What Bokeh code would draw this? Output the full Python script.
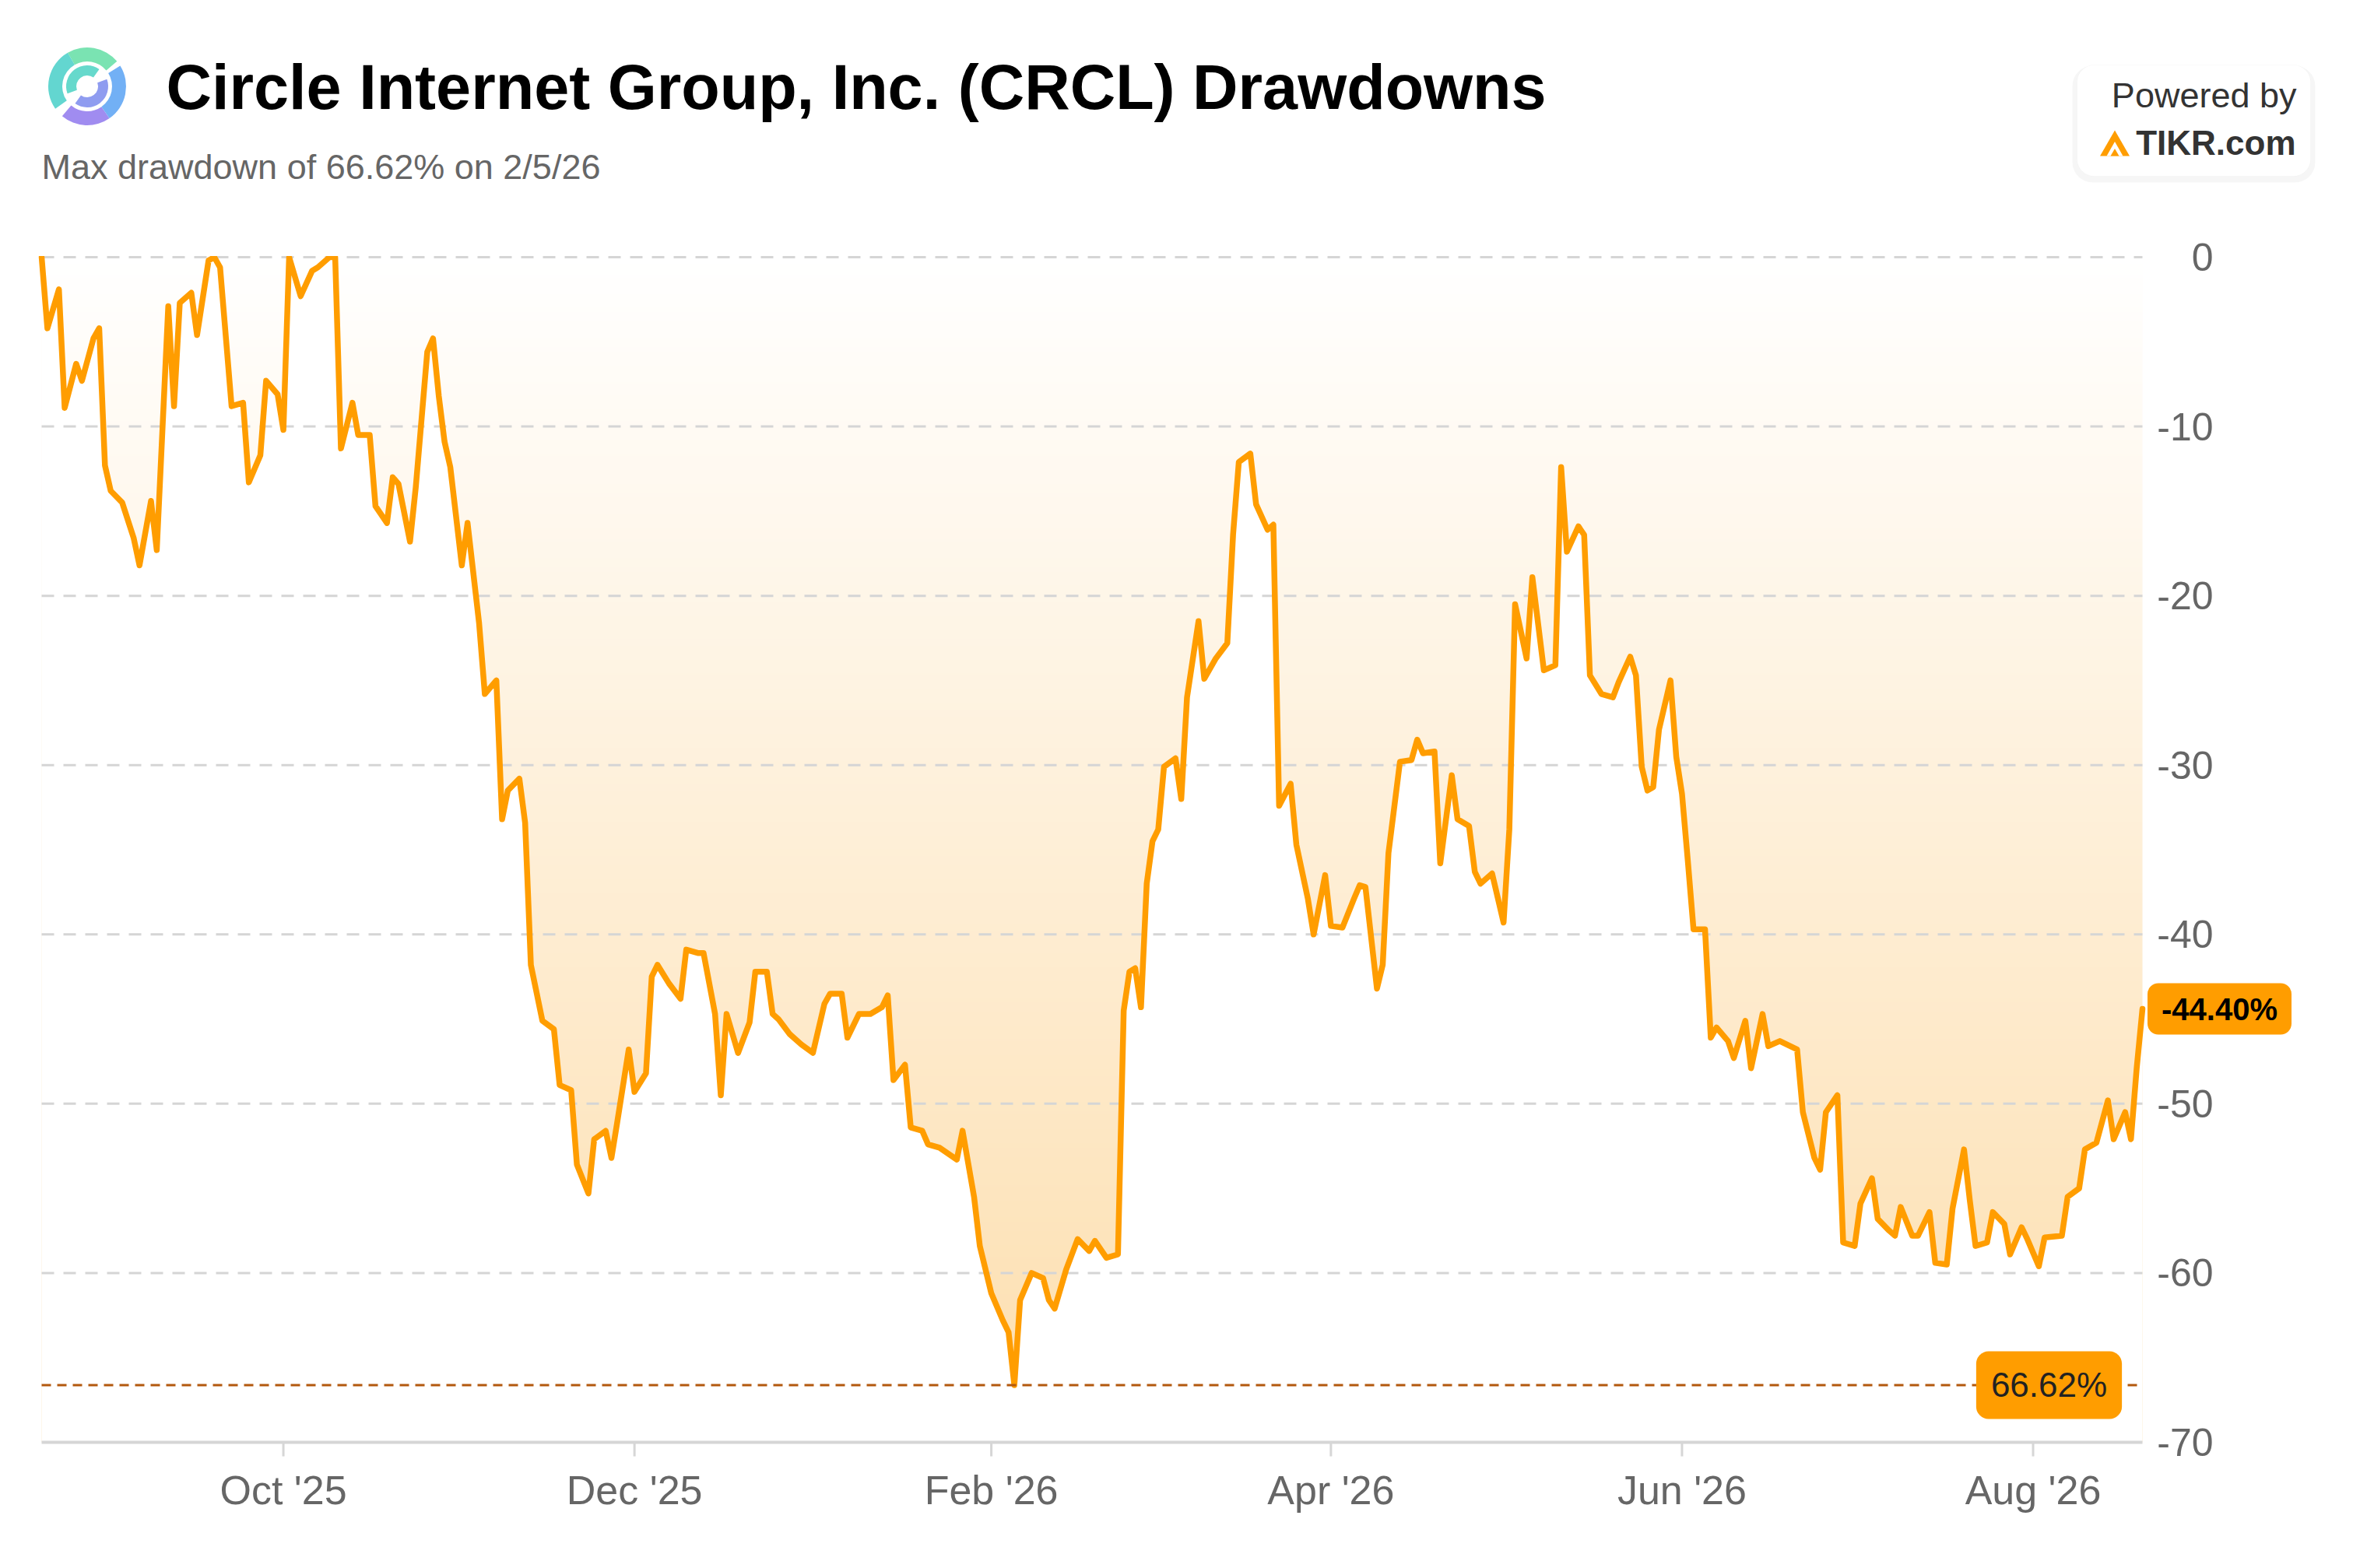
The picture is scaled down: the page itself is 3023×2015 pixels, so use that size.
import numpy as np
import pandas as pd
from bokeh.plotting import figure
from bokeh.models import (Range1d, FixedTicker, DatetimeTickFormatter, Label, BoxAnnotation)
from bokeh.embed import file_html
from bokeh.resources import INLINE

# ---------------- data ----------------
dates = [
    "2025-08-20", "2025-08-21", "2025-08-23", "2025-08-24", "2025-08-26", "2025-08-27",
    "2025-08-29", "2025-08-30", "2025-08-31", "2025-09-01", "2025-09-03", "2025-09-05",
    "2025-09-06", "2025-09-08", "2025-09-09", "2025-09-11", "2025-09-12", "2025-09-13",
    "2025-09-15", "2025-09-16", "2025-09-18", "2025-09-19", "2025-09-20", "2025-09-22",
    "2025-09-24", "2025-09-25", "2025-09-27", "2025-09-28", "2025-09-30", "2025-10-01",
    "2025-10-02", "2025-10-04", "2025-10-06", "2025-10-07", "2025-10-09", "2025-10-10",
    "2025-10-11", "2025-10-13", "2025-10-14", "2025-10-16", "2025-10-17", "2025-10-19",
    "2025-10-20", "2025-10-21", "2025-10-23", "2025-10-24", "2025-10-26", "2025-10-27",
    "2025-10-28", "2025-10-29", "2025-10-30", "2025-11-01", "2025-11-02", "2025-11-04",
    "2025-11-05", "2025-11-07", "2025-11-08", "2025-11-09", "2025-11-11", "2025-11-12",
    "2025-11-13", "2025-11-15", "2025-11-17", "2025-11-18", "2025-11-20", "2025-11-21",
    "2025-11-23", "2025-11-24", "2025-11-26", "2025-11-27", "2025-11-28", "2025-11-30",
    "2025-12-01", "2025-12-03", "2025-12-04", "2025-12-05", "2025-12-07", "2025-12-09",
    "2025-12-10", "2025-12-12", "2025-12-13", "2025-12-15", "2025-12-16", "2025-12-17",
    "2025-12-19", "2025-12-21", "2025-12-22", "2025-12-24", "2025-12-25", "2025-12-26",
    "2025-12-28", "2025-12-30", "2026-01-01", "2026-01-03", "2026-01-04", "2026-01-06",
    "2026-01-07", "2026-01-09", "2026-01-11", "2026-01-13", "2026-01-14", "2026-01-15",
    "2026-01-17", "2026-01-18", "2026-01-20", "2026-01-21", "2026-01-23", "2026-01-26",
    "2026-01-27", "2026-01-29", "2026-01-30", "2026-02-01", "2026-02-03", "2026-02-04",
    "2026-02-05", "2026-02-06", "2026-02-08", "2026-02-10", "2026-02-11", "2026-02-12",
    "2026-02-14", "2026-02-15", "2026-02-16", "2026-02-18", "2026-02-19", "2026-02-21",
    "2026-02-23", "2026-02-24", "2026-02-25", "2026-02-26", "2026-02-27", "2026-02-28",
    "2026-03-01", "2026-03-02", "2026-03-03", "2026-03-05", "2026-03-06", "2026-03-07",
    "2026-03-09", "2026-03-10", "2026-03-12", "2026-03-14", "2026-03-15", "2026-03-16",
    "2026-03-18", "2026-03-19", "2026-03-21", "2026-03-22", "2026-03-23", "2026-03-25",
    "2026-03-26", "2026-03-28", "2026-03-29", "2026-03-31", "2026-04-01", "2026-04-03",
    "2026-04-05", "2026-04-06", "2026-04-07", "2026-04-09", "2026-04-10", "2026-04-11",
    "2026-04-13", "2026-04-15", "2026-04-16", "2026-04-17", "2026-04-19", "2026-04-20",
    "2026-04-22", "2026-04-23", "2026-04-25", "2026-04-26", "2026-04-27", "2026-04-29",
    "2026-05-01", "2026-05-02", "2026-05-03", "2026-05-05", "2026-05-06", "2026-05-08",
    "2026-05-10", "2026-05-11", "2026-05-12", "2026-05-14", "2026-05-15", "2026-05-16",
    "2026-05-18", "2026-05-20", "2026-05-21", "2026-05-23", "2026-05-24", "2026-05-25",
    "2026-05-26", "2026-05-27", "2026-05-28", "2026-05-30", "2026-05-31", "2026-06-01",
    "2026-06-02", "2026-06-03", "2026-06-05", "2026-06-06", "2026-06-07", "2026-06-09",
    "2026-06-10", "2026-06-12", "2026-06-13", "2026-06-15", "2026-06-16", "2026-06-18",
    "2026-06-21", "2026-06-22", "2026-06-24", "2026-06-25", "2026-06-26", "2026-06-28",
    "2026-06-29", "2026-07-01", "2026-07-02", "2026-07-04", "2026-07-05", "2026-07-07",
    "2026-07-08", "2026-07-09", "2026-07-11", "2026-07-12", "2026-07-14", "2026-07-15",
    "2026-07-17", "2026-07-18", "2026-07-20", "2026-07-21", "2026-07-22", "2026-07-24",
    "2026-07-25", "2026-07-27", "2026-07-28", "2026-07-30", "2026-07-31", "2026-08-02",
    "2026-08-03", "2026-08-06", "2026-08-07", "2026-08-09", "2026-08-10", "2026-08-12",
    "2026-08-14", "2026-08-15", "2026-08-17", "2026-08-18", "2026-08-19", "2026-08-20",
]
drawdown = [
    0.0, -4.2, -1.9, -8.9, -6.3, -7.3,
    -4.8, -4.2, -12.3, -13.8, -14.5, -16.6,
    -18.2, -14.4, -17.3, -2.9, -8.8, -2.7,
    -2.1, -4.6, -0.2, 0.0, -0.6, -8.8,
    -8.6, -13.3, -11.7, -7.3, -8.1, -10.2,
    0.0, -2.3, -0.8, -0.6, 0.0, 0.0,
    -11.3, -8.6, -10.5, -10.5, -14.7, -15.7,
    -13.0, -13.4, -16.8, -13.6, -5.6, -4.8,
    -8.2, -10.9, -12.4, -18.2, -15.7, -21.6,
    -25.8, -25.0, -33.2, -31.5, -30.8, -33.4,
    -41.8, -45.1, -45.6, -48.9, -49.2, -53.6,
    -55.3, -52.1, -51.6, -53.2, -51.1, -46.8,
    -49.3, -48.2, -42.5, -41.8, -42.9, -43.8,
    -40.9, -41.1, -41.1, -44.7, -49.5, -44.7,
    -47.0, -45.2, -42.2, -42.2, -44.7, -45.0,
    -45.9, -46.5, -47.0, -44.1, -43.5, -43.5,
    -46.1, -44.7, -44.7, -44.3, -43.6, -48.6,
    -47.7, -51.4, -51.6, -52.4, -52.6, -53.3,
    -51.6, -55.5, -58.4, -61.2, -62.8, -63.5,
    -66.62, -61.6, -60.0, -60.3, -61.6, -62.1,
    -59.8, -58.9, -58.0, -58.7, -58.1, -59.1,
    -58.9, -44.5, -42.2, -42.0, -44.3, -37.0,
    -34.5, -33.8, -30.1, -29.6, -32.0, -26.0,
    -21.5, -24.9, -23.7, -22.8, -16.4, -12.1,
    -11.6, -14.6, -16.1, -15.8, -32.4, -31.1,
    -34.7, -37.9, -40.0, -36.5, -39.5, -39.6,
    -37.9, -37.1, -37.2, -43.2, -41.8, -35.2,
    -29.8, -29.7, -28.5, -29.3, -29.2, -35.8,
    -30.6, -33.2, -33.6, -36.3, -37.0, -36.4,
    -39.3, -33.8, -20.5, -23.7, -18.9, -24.4,
    -24.1, -12.4, -17.4, -15.9, -16.4, -24.7,
    -25.8, -26.0, -25.1, -23.6, -24.7, -30.1,
    -31.5, -31.3, -27.9, -25.0, -29.5, -31.7,
    -35.6, -39.7, -39.7, -46.1, -45.5, -46.3,
    -47.3, -45.1, -47.9, -44.7, -46.6, -46.3,
    -46.8, -50.5, -53.2, -53.9, -50.5, -49.5,
    -58.2, -58.4, -55.9, -54.4, -56.8, -57.5,
    -57.8, -56.1, -57.8, -57.8, -56.4, -59.4,
    -59.5, -56.2, -52.7, -55.7, -58.4, -58.2,
    -56.4, -57.1, -58.9, -57.3, -58.0, -59.6,
    -57.9, -57.8, -55.5, -55.0, -52.7, -52.3,
    -49.8, -52.1, -50.5, -52.1, -47.9, -44.40,
]
x_tick_dates = ["2025-10-01", "2025-12-01", "2026-02-01", "2026-04-01", "2026-06-01", "2026-08-01"]
y_ticks = [0, -10, -20, -30, -40, -50, -60, -70]
y_tick_labels = ["0", "-10", "-20", "-30", "-40", "-50", "-60", "-70"]
max_drawdown = -66.62
max_label = "66.62%"
last_label = "-44.40%"
title_text = "Circle Internet Group, Inc. (CRCL) Drawdowns"
subtitle_text = "Max drawdown of 66.62% on 2/5/26"

# ---------------- layout constants (page pixels) ----------------
FONT = "Liberation Sans"
ORANGE = "#ff9d00"
W = 3016                 # canvas width
PAD = 0                  # bokeh's page template has no body margin
PLOT_L, PLOT_R = 53, 2752    # page x of the plotting area
PLOT_T, PLOT_B = 330, 1853   # page y of 0 and -70
Y_TOP, Y_BOT = 0.0, -70.0
AX_EXTRA = 27            # px of frame kept below the -70 line
BOTTOM_BORDER = 120
MID = 0.3465             # baseline offset of the text box middle (em)

ppu = (PLOT_B - PLOT_T) / (Y_TOP - Y_BOT)          # px per drawdown unit
frame_bottom_page = PLOT_B + AX_EXTRA
frame_h = frame_bottom_page - PAD
H = frame_h + BOTTOM_BORDER

xd = pd.to_datetime(dates)
x0_ms = xd[0].value / 1e6
x1_ms = xd[-1].value / 1e6
ms_per_px = (x1_ms - x0_ms) / (PLOT_R - PLOT_L)
xr_start = x0_ms - (PLOT_L - PAD) * ms_per_px
xr_end = xr_start + W * ms_per_px
yr_start = Y_BOT - AX_EXTRA / ppu
yr_end = yr_start + frame_h / ppu


def sx(X):  # page x -> frame screen x
    return X - PAD


def sy(Y):  # page y -> frame screen y (from frame bottom, upward)
    return frame_bottom_page - Y


def dx(X):  # page x -> data x
    return xr_start + (X - PAD) * ms_per_px


def dy(Y):  # page y -> data y
    return yr_start + (frame_bottom_page - Y) / ppu


p = figure(width=W, height=H, x_axis_type="datetime", y_axis_type=None,
           x_range=Range1d(xr_start, xr_end), y_range=Range1d(yr_start, yr_end),
           toolbar_location=None, output_backend="svg",
           min_border_left=0, min_border_right=0, min_border_top=0,
           min_border_bottom=BOTTOM_BORDER)
p.outline_line_color = None
p.background_fill_color = "white"
p.border_fill_color = "white"
p.xgrid.visible = False

# ---------------- area gradient ----------------
N = 512
rows = Y_BOT + (np.arange(N) + 0.5) * (Y_TOP - Y_BOT) / N
frac = np.clip(-rows / -max_drawdown, 0, 1)
top_c = np.array([255, 255, 255])
bot_c = np.array([253, 224, 178])
img = np.zeros((N, 1), dtype=np.uint32)
view = img.view(dtype=np.uint8).reshape((N, 1, 4))
for k in range(3):
    view[:, 0, k] = np.round(top_c[k] + frac * (bot_c[k] - top_c[k])).astype(np.uint8)
view[:, 0, 3] = 255
p.image_rgba(image=[img], x=x0_ms, y=Y_BOT, dw=x1_ms - x0_ms, dh=Y_TOP - Y_BOT, level="image")
p.varea(x=xd, y1=Y_BOT - 10, y2=drawdown, fill_color="white", level="image")

# grid lines (dashed) over the plotting area
grid_y = y_ticks[:-1]
p.segment(x0=[x0_ms] * len(grid_y), x1=[x1_ms] * len(grid_y), y0=grid_y, y1=grid_y,
          line_color="#d5d5d5", line_width=3, line_dash="16 12", level="underlay")

# drawdown line, clipped at the top of the plotting area like the original
p.line(x=xd, y=drawdown, line_color=ORANGE, line_width=7.5, line_join="round", line_cap="round")
p.quad(left=[x0_ms - 20 * ms_per_px], right=[x1_ms + 20 * ms_per_px], bottom=[Y_TOP + 1.6 / ppu],
       top=[yr_end], fill_color="white", line_color=None)

# x axis line and tick marks
p.segment(x0=[x0_ms], x1=[x1_ms], y0=[Y_BOT], y1=[Y_BOT], line_color="#d6d6d6", line_width=4)
xt = [pd.Timestamp(d).value / 1e6 for d in x_tick_dates]
p.segment(x0=xt, x1=xt, y0=[Y_BOT] * len(xt), y1=[Y_BOT - 18 / ppu] * len(xt),
          line_color="#d6d6d6", line_width=3)

# max drawdown line
p.segment(x0=[x0_ms], x1=[x1_ms], y0=[max_drawdown], y1=[max_drawdown],
          line_color="#b3590e", line_width=3, line_dash="12 8")

# ---------------- x axis labels ----------------
ax = p.xaxis[0]
ax.ticker = FixedTicker(ticks=xt)
fmt = "%b '%y"
ax.formatter = DatetimeTickFormatter(milliseconds=fmt, seconds=fmt, minsec=fmt, minutes=fmt,
                                     hourmin=fmt, hours=fmt, days=fmt, months=fmt, years=fmt)
ax.major_label_text_font = FONT
ax.major_label_text_font_size = "52px"
ax.major_label_text_color = "#666666"
ax.axis_line_color = None
ax.major_tick_line_color = None
ax.major_tick_in = 0
ax.major_tick_out = 0
ax.minor_tick_line_color = None
ax.minor_tick_in = 0
ax.minor_tick_out = 0
ax.major_label_standoff = 5

# ---------------- y labels on the right (right aligned) ----------------
for v, t in zip(y_ticks, y_tick_labels):
    p.add_layout(Label(x=sx(2843), y=v, x_units="screen", text=t, text_font=FONT,
                       text_font_size="50px", text_color="#666666", text_align="right",
                       text_baseline="middle"))

# ---------------- value labels ----------------
p.add_layout(Label(x=sx(2632), y=max_drawdown, x_units="screen", text=max_label, text_font=FONT,
                   text_font_size="44px", text_color="#222222", text_align="center",
                   text_baseline="middle", background_fill_color=ORANGE, padding=19,
                   border_radius=16))
p.add_layout(Label(x=sx(2851), y=drawdown[-1], x_units="screen", text=last_label, text_font=FONT,
                   text_font_size="40px", text_font_style="bold", text_color="#000000",
                   text_align="center", text_baseline="middle", background_fill_color=ORANGE,
                   padding=(18, 11), border_radius=14))

# ---------------- header ----------------
p.add_layout(Label(x=sx(213), y=sy(140 - MID * 81), x_units="screen", y_units="screen",
                   text=title_text, text_font=FONT, text_font_size="81px",
                   text_font_style="bold", text_color="#000000", text_baseline="middle"))
p.add_layout(Label(x=sx(53), y=sy(230 - MID * 45), x_units="screen", y_units="screen",
                   text=subtitle_text, text_font=FONT, text_font_size="45px",
                   text_color="#666666", text_baseline="middle"))

# Circle logo (approximation with annular wedges)
lcx, lcy = dx(111.5), dy(110.5)
logo_parts = [
    (32, 50, 40, 120, "#7ae3b2"),
    (32, 50, 120, 215, "#63d6d0"),
    (32, 50, 230, 305, "#a08cf0"),
    (32, 50, 305, 392, "#72b0f5"),
    (14, 27, 55, 200, "#66d9cc"),
    (14, 27, 235, 380, "#8f9cf0"),
]
for r0, r1, a0, a1, col in logo_parts:
    p.annular_wedge(x=lcx, y=lcy, inner_radius=r0, outer_radius=r1,
                    inner_radius_units="screen", outer_radius_units="screen",
                    start_angle=np.radians(a0), end_angle=np.radians(a1),
                    fill_color=col, line_color=None, level="overlay")

# Powered by TIKR box
p.add_layout(BoxAnnotation(left=sx(2662), right=sx(2974), top=sy(84), bottom=sy(234),
                           left_units="screen", right_units="screen", top_units="screen",
                           bottom_units="screen", fill_color="#000000", fill_alpha=0.035,
                           line_color=None, border_radius=26))
p.add_layout(BoxAnnotation(left=sx(2668), right=sx(2968), top=sy(83), bottom=sy(226),
                           left_units="screen", right_units="screen", top_units="screen",
                           bottom_units="screen", fill_color="white", fill_alpha=1.0,
                           line_color="#eeeeee", line_width=1, border_radius=22))
p.add_layout(Label(x=sx(2950), y=sy(138 - MID * 45), x_units="screen", y_units="screen",
                   text="Powered by", text_font=FONT, text_font_size="45px",
                   text_color="#333333", text_align="right", text_baseline="middle"))
p.add_layout(Label(x=sx(2949), y=sy(198 - MID * 44), x_units="screen", y_units="screen",
                   text="TIKR.com", text_font=FONT, text_font_size="44px",
                   text_font_style="bold", text_color="#333333", text_align="right",
                   text_baseline="middle"))
p.patch(x=[dx(2697.5), dx(2716.5), dx(2735.5)], y=[dy(200), dy(167), dy(200)],
        fill_color=ORANGE, line_color=None, level="overlay")
p.patch(x=[dx(2706), dx(2716.5), dx(2727)], y=[dy(200), dy(181.5), dy(200)],
        fill_color="white", line_color=None, level="overlay")
p.patch(x=[dx(2711), dx(2716.5), dx(2722)], y=[dy(200), dy(190.5), dy(200)],
        fill_color=ORANGE, line_color=None, level="overlay")

open("out.html", "w").write(file_html(p, INLINE))
